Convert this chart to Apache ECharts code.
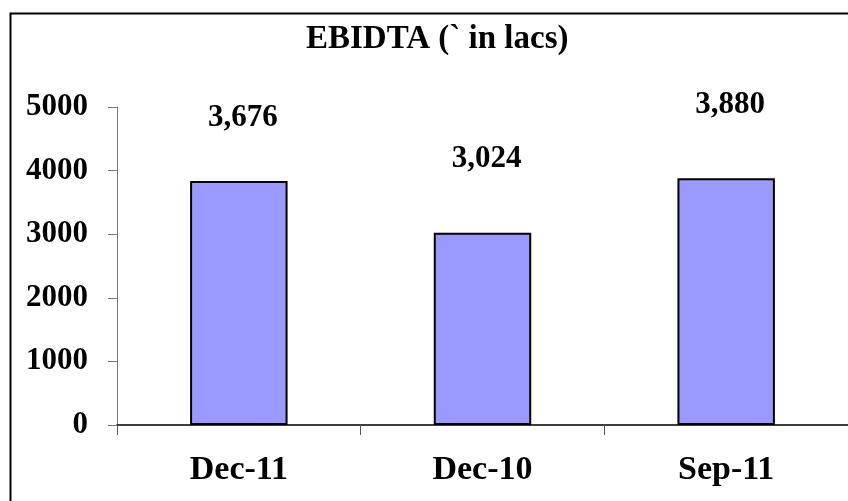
<!DOCTYPE html>
<html>
<head>
<meta charset="utf-8">
<script src="https://cdn.jsdelivr.net/npm/echarts@6/dist/echarts.min.js"></script>
<style>
  html, body { margin: 0; padding: 0; background: #fff; }
  #chart { width: 848px; height: 501px; }
</style>
</head>
<body>
<div id="chart"></div>
<script>
// 图表数据
const categories = ['Dec-11', 'Dec-10', 'Sep-11']
// 柱子高度
const barValues = [3836, 3024, 3880]
// 数据标签的数值
const labelValues = [3676, 3024, 3880]
const yTicks = [0, 1000, 2000, 3000, 4000, 5000]

const serif = '"Liberation Serif", "DejaVu Serif", serif'

const chart = echarts.init(document.getElementById('chart'))
const opt = {
    animation: false,
    title: {
        text: 'EBIDTA (` in lacs)',
        left: 301,
        top: 18,
        textStyle: { fontFamily: serif, fontWeight: 'bold', fontSize: 33, color: '#000' }
    },
    graphic: [{
        type: 'rect',
        left: 8,
        top: 11,
        shape: { width: 870, height: 520 },
        style: { fill: 'none', stroke: '#000', lineWidth: 2 }
    }],
    grid: { left: 117, right: -7, top: 107, bottom: 76 },
    xAxis: {
        type: 'category',
        data: categories,
        axisLine: { lineStyle: { color: '#000', width: 1.5 } },
        axisTick: { show: true, length: 10, lineStyle: { color: '#555' } },
        axisLabel: {
            margin: 28,
            color: '#000',
            fontFamily: serif,
            fontWeight: 'bold',
            fontSize: 34
        }
    },
    yAxis: {
        type: 'value',
        min: yTicks[0],
        max: yTicks[yTicks.length - 1],
        interval: 1000,
        splitLine: { show: false },
        axisLine: { show: true, lineStyle: { color: '#777' } },
        axisTick: { show: true, length: 9, lineStyle: { color: '#777' } },
        axisLabel: {
            margin: 29,
            color: '#000',
            fontFamily: serif,
            fontWeight: 'bold',
            fontSize: 31,
            formatter: v => String(v)
        }
    },
    series: [
        {
            type: 'bar',
            data: barValues,
            barWidth: '40%',
            itemStyle: { color: '#9999FF', borderColor: '#000', borderWidth: 2 }
        },
        {
            // 透明柱，只用来放数据标签
            type: 'bar',
            data: labelValues,
            barWidth: '40%',
            barGap: '-100%',
            silent: true,
            itemStyle: { color: 'rgba(0,0,0,0)', borderWidth: 0 },
            label: {
                show: true,
                position: 'top',
                distance: 58,
                offset: [4, 0],
                color: '#000',
                fontFamily: serif,
                fontWeight: 'bold',
                fontSize: 31,
                formatter: p => p.value.toLocaleString('en-US')
            }
        }
    ]
}
chart.setOption(opt)
</script>
</body>
</html>
